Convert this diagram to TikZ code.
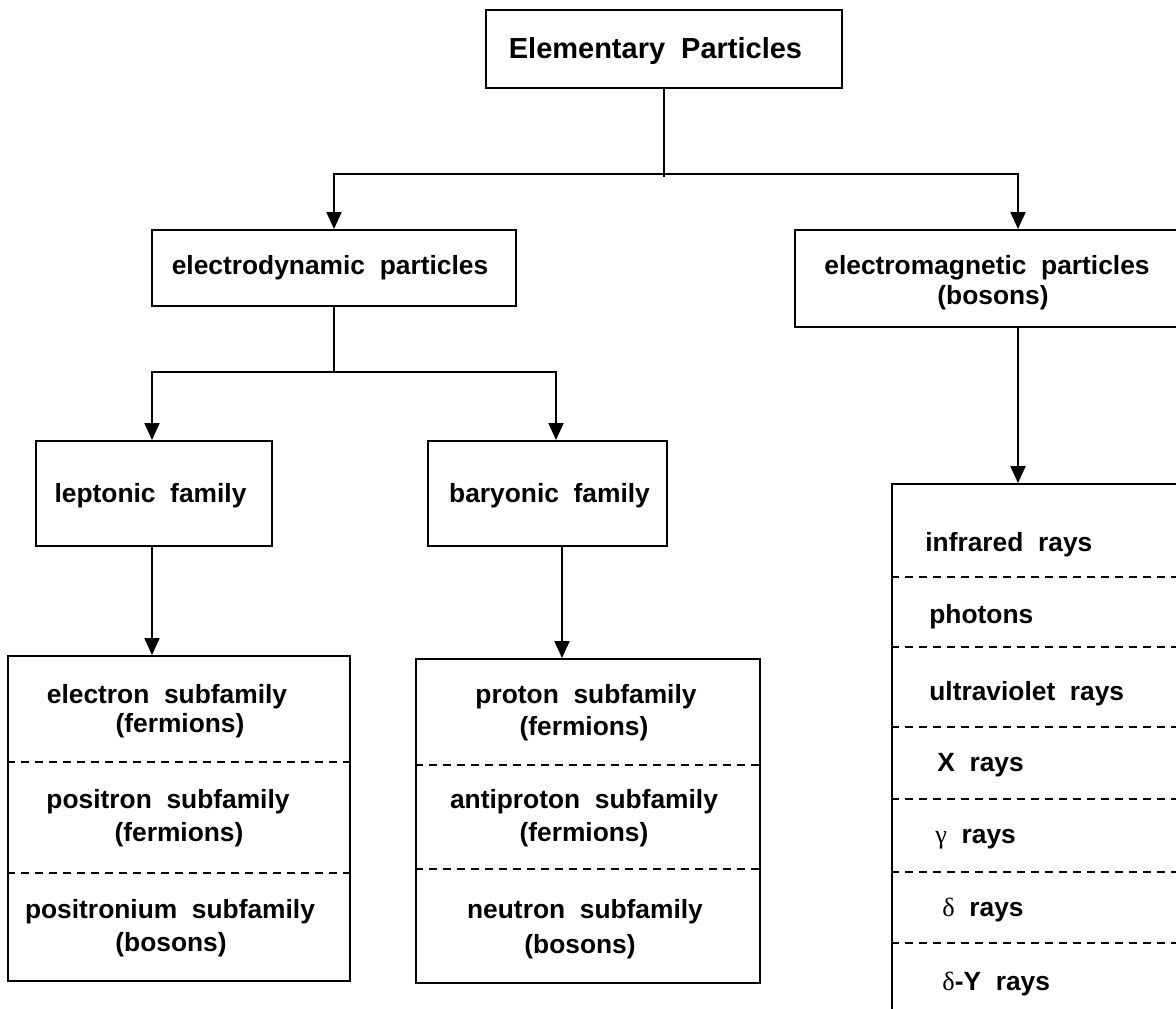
\documentclass[tikz,border=0pt]{standalone}
\usepackage{fontspec}
\setmainfont{Liberation Sans}
\newfontfamily\grkfont{Liberation Serif}
\usetikzlibrary{arrows.meta}
\begin{document}
\begin{tikzpicture}[x=0.02cm,y=-0.02cm,
  box/.style={draw,line width=1.1pt,rectangle,inner sep=0pt},
  lbl/.style={font=\fontsize{15}{18}\selectfont\bfseries,inner sep=0pt},
  ttl/.style={font=\fontsize{16.5}{20}\selectfont\bfseries,inner sep=0pt},
  arr/.style={line width=1.1pt,-{Triangle[length=0.34cm,width=0.3cm]}},
  ln/.style={line width=1.1pt},
  dsh/.style={line width=1pt,dash pattern=on 0.16cm off 0.12cm}]
\useasboundingbox (0,0) rectangle (1176,1008);
\clip (0,0) rectangle (1176,1008);

% boxes
\node[box,minimum width=7.12cm,minimum height=1.56cm] (title) at (664,49) {};
\node[box,minimum width=7.28cm,minimum height=1.52cm] (ed) at (334,268) {};
\node[box,minimum width=8.92cm,minimum height=1.94cm] (em) at (1018,278.5) {};
\node[box,minimum width=4.72cm,minimum height=2.1cm] (lep) at (154,493.5) {};
\node[box,minimum width=4.78cm,minimum height=2.1cm] (bar) at (547.5,493.5) {};
\node[box,minimum width=6.84cm,minimum height=6.5cm] (sub1) at (179,818.5) {};
\node[box,minimum width=6.88cm,minimum height=6.48cm] (sub2) at (588,821) {};
\node[box,minimum width=6.16cm,minimum height=10.92cm] (rays) at (1046,757) {};

% connectors
\coordinate (j1) at (664,174);
\coordinate (j2) at (334,372);
\draw[ln] (title.south) -- ([yshift=-0.06cm]j1);
\draw[arr] (j1) -| (ed.north);
\draw[arr] (j1) -| (em.north);
\draw[arr] (em.south) -- (em.south |- rays.north);
\draw[ln] (ed.south) -- (j2);
\draw[arr] (j2) -| ([xshift=-0.04cm]lep.north);
\draw[arr] (j2) -| ([xshift=0.17cm]bar.north);
\draw[arr] ([xshift=-0.04cm]lep.south) -- ([xshift=-0.04cm]lep.south |- sub1.north);
\draw[arr] ([xshift=0.29cm]bar.south) -- ([xshift=0.29cm]bar.south |- sub2.north);

% dashed separators
\draw[dsh] (sub1.west |- 0,762) -- (sub1.east |- 0,762);
\draw[dsh] (sub1.west |- 0,873) -- (sub1.east |- 0,873);
\draw[dsh] (sub2.west |- 0,765) -- (sub2.east |- 0,765);
\draw[dsh] (sub2.west |- 0,869) -- (sub2.east |- 0,869);
\foreach \yy in {577,647,727,799,872,943}
  \draw[dsh] (rays.west |- 0,\yy) -- (rays.east |- 0,\yy);

% texts
\node[ttl] (tTitle) at (655.5,51) {Elementary~~Particles};
\node[lbl] (tEd) at (330,268) {electrodynamic~~particles};
\node[lbl] (tEm1) at (987,268) {electromagnetic~~particles};
\node[lbl] (tEm2) at (993,298) {(bosons)};
\node[lbl] (tLep) at (150.5,496) {leptonic~~family};
\node[lbl] (tBar) at (549.5,496) {baryonic~~family};

\node[lbl] (tS1a) at (167,697) {electron~~subfamily};
\node[lbl] (tS1b) at (180,726) {(fermions)};
\node[lbl] (tS1c) at (168,802) {positron~~subfamily};
\node[lbl] (tS1d) at (179,835) {(fermions)};
\node[lbl] (tS1e) at (170,912) {positronium~~subfamily};
\node[lbl] (tS1f) at (171,945) {(bosons)};

\node[lbl] (tS2a) at (586,697) {proton~~subfamily};
\node[lbl] (tS2b) at (584,729) {(fermions)};
\node[lbl] (tS2c) at (584,802) {antiproton~~subfamily};
\node[lbl] (tS2d) at (584,835) {(fermions)};
\node[lbl] (tS2e) at (585,912) {neutron~~subfamily};
\node[lbl] (tS2f) at (580,947) {(bosons)};

\node[lbl,anchor=west] (r1) at (925,545) {infrared~~rays};
\node[lbl,anchor=west] (r2) at (929,617) {photons};
\node[lbl,anchor=west] (r3) at (929,694) {ultraviolet~~rays};
\node[lbl,anchor=west] (r4) at (937,765) {X~~rays};
\node[lbl,anchor=west] (r5) at (935,839) {{\grkfont\mdseries γ}~~rays};
\node[lbl,anchor=west] (r6) at (942,910) {{\grkfont\mdseries δ}~~rays};
\node[lbl,anchor=west] (r7) at (942,984) {{\grkfont\mdseries δ}-Y~~rays};
\end{tikzpicture}
\end{document}
